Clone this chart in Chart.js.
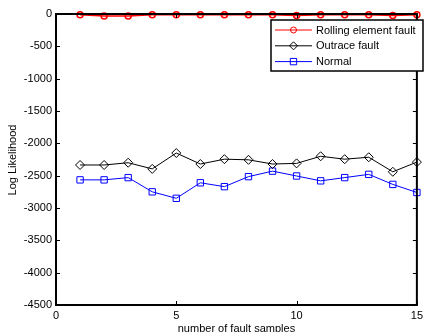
<!DOCTYPE html>
<html><head><meta charset="utf-8">
<script src="https://cdn.jsdelivr.net/npm/chart.js@4/dist/chart.umd.min.js"></script>
<style>html,body{margin:0;padding:0;background:#fff;}#wrap{width:427px;height:332px;position:relative;}</style>
</head><body><div id="wrap"><canvas id="c" width="427" height="332"></canvas></div>
<script>
const samples = [1,2,3,4,5,6,7,8,9,10,11,12,13,14,15];
const rolling = [-10,-30,-30,-10,-10,-10,-10,-10,-10,-25,-10,-10,-10,-25,-10];
const outrace = [-2335,-2335,-2300,-2395,-2150,-2320,-2245,-2255,-2320,-2310,-2200,-2245,-2215,-2440,-2290];
const normal = [-2565,-2565,-2530,-2750,-2850,-2610,-2670,-2515,-2430,-2505,-2580,-2530,-2480,-2635,-2760];
const seriesNames = ["Rolling element fault","Outrace fault","Normal"];
const xTicks = [0,5,10,15];
const yTicks = [0,-500,-1000,-1500,-2000,-2500,-3000,-3500,-4000,-4500];
const FONT = "Liberation Sans, Arial, sans-serif";

function pts(arr){ return samples.map((x,i)=>({x:x,y:arr[i]})); }

const frame = {
  id:'frame',
  afterDatasetsDraw(chart){
    const ctx = chart.ctx, a = chart.chartArea;
    const xs = chart.scales.x, ys = chart.scales.y;
    ctx.save();
    ctx.strokeStyle = '#000'; ctx.lineWidth = 1;
    ctx.beginPath();
    xTicks.forEach(v=>{ const p = Math.round(xs.getPixelForValue(v))+0.5;
      ctx.moveTo(p,a.bottom); ctx.lineTo(p,a.bottom-4);
      ctx.moveTo(p,a.top); ctx.lineTo(p,a.top+4); });
    yTicks.forEach(v=>{ const p = Math.round(ys.getPixelForValue(v))+0.5;
      ctx.moveTo(a.left,p); ctx.lineTo(a.left+4,p);
      ctx.moveTo(a.right,p); ctx.lineTo(a.right-4,p); });
    ctx.stroke();
    ctx.lineWidth = 2;
    ctx.strokeRect(a.left, a.top, a.right-a.left, a.bottom-a.top);
    // legend
    const lx=271, ly=20, lw=152, lh=51;
    ctx.fillStyle='#fff'; ctx.fillRect(lx,ly,lw,lh);
    ctx.lineWidth=1.5; ctx.strokeRect(lx,ly,lw,lh);
    ctx.font = '11px '+FONT; ctx.textBaseline='middle'; ctx.textAlign='left';
    chart.data.datasets.forEach((ds,i)=>{
      const cy = 30 + i*15.8;
      ctx.strokeStyle = ds.borderColor; ctx.lineWidth=1;
      ctx.beginPath(); ctx.moveTo(275,cy); ctx.lineTo(312,cy); ctx.stroke();
      Chart.helpers.drawPoint(ctx,{pointStyle:ds.pointStyle,rotation:0,borderWidth:1},293.5,cy);
      ctx.fillStyle='#000'; ctx.fillText(ds.label,316,cy+0.5);
    });
    // axis titles
    ctx.fillStyle='#000'; ctx.font='11px '+FONT; ctx.textAlign='center';
    ctx.fillText('number of fault samples', (a.left+a.right)/2, 329);
    ctx.translate(13,160); ctx.rotate(-Math.PI/2);
    ctx.fillText('Log Likelihood',0,0);
    ctx.restore();
  }
};
const _dp = Chart.helpers.drawPoint;
Chart.helpers.drawPoint = function(ctx, opts, x, y){
  if (opts && opts.radius === undefined) {
    const r = opts.pointStyle==='circle'?3:(opts.pointStyle==='rectRot'?4:4.5);
    opts = Object.assign({}, opts, {radius:r});
    ctx.fillStyle = 'rgba(0,0,0,0)';
    ctx.strokeStyle = opts.pointStyle==='circle'?'#f00':(opts.pointStyle==='rectRot'?'#000':'#00f');
  }
  return _dp(ctx, opts, x, y);
};

new Chart(document.getElementById('c'), {
  type:'scatter',
  data:{ datasets:[
    {label:seriesNames[0], data:pts(rolling), showLine:true, borderColor:'#ff0000', backgroundColor:'rgba(0,0,0,0)', borderWidth:1.5, pointStyle:'circle', pointRadius:3, pointBorderColor:'#ff0000', pointBorderWidth:1.5, clip:false},
    {label:seriesNames[1], data:pts(outrace), showLine:true, borderColor:'#000000', backgroundColor:'rgba(0,0,0,0)', borderWidth:1, pointStyle:'rectRot', pointRadius:4.5, pointBorderColor:'#000', pointBorderWidth:1, clip:false},
    {label:seriesNames[2], data:pts(normal), showLine:true, borderColor:'#0000ff', backgroundColor:'rgba(0,0,0,0)', borderWidth:1, pointStyle:'rect', pointRadius:4.5, pointBorderColor:'#0000ff', pointBorderWidth:1, clip:false}
  ]},
  options:{
    responsive:false, animation:false, devicePixelRatio:1,
    layout:{padding:{left:0,right:4,top:14,bottom:0}},
    plugins:{legend:{display:false}, tooltip:{enabled:false}},
    scales:{
      x:{type:'linear', min:0, max:15, afterBuildTicks(s){ s.ticks = xTicks.map(v=>({value:v})); },
        afterFit(s){ s.height = 27; },
        grid:{display:false, drawTicks:false}, border:{display:false},
        ticks:{color:'#000', padding:4, font:{family:FONT,size:11}, maxRotation:0, autoSkip:false, callback:v=>String(v)}},
      y:{type:'linear', min:-4500, max:0, afterBuildTicks(s){ s.ticks = yTicks.map(v=>({value:v})); },
        afterFit(s){ s.width = 56; },
        grid:{display:false, drawTicks:false}, border:{display:false},
        ticks:{color:'#000', padding:4, font:{family:FONT,size:11}, autoSkip:false, callback:v=>String(v)}}
    }
  },
  plugins:[frame]
});
</script></body></html>
